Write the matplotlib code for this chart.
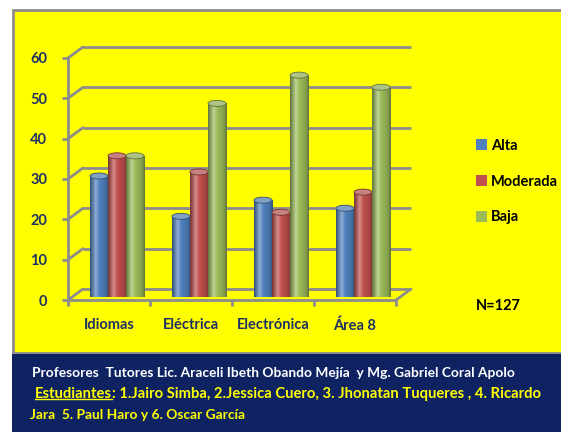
import matplotlib
matplotlib.use('Agg')
import matplotlib.pyplot as plt
import numpy as np
from matplotlib.patches import Rectangle, Ellipse, Patch, ConnectionPatch
from matplotlib.lines import Line2D
from matplotlib.colors import LinearSegmentedColormap, to_rgb

# data
categories = ['Idiomas', 'Eléctrica', 'Electrónica', 'Área 8']
series = ['Alta', 'Moderada', 'Baja']
alta = [30, 20, 24, 22]
moderada = [35, 31, 21, 26]
baja = [35, 48, 55, 52]
yticks = [0, 10, 20, 30, 40, 50, 60]
colors = ['#4F81BD', '#C0504D', '#9BBB59']
n_text = 'N=127'
line1 = 'Profesores  Tutores Lic. Araceli Ibeth Obando Mejía  y Mg. Gabriel Coral Apolo'
stud_head = 'Estudiantes'
line2 = ': 1.Jairo Simba, 2.Jessica Cuero, 3. Jhonatan Tuqueres , 4. Ricardo'
line3 = 'Jara  5. Paul Haro y 6. Oscar García'

plt.rcParams['font.family'] = ['Lato', 'DejaVu Sans']
plt.rcParams['font.weight'] = 'bold'

W, H = 561, 432
fig = plt.figure(figsize=(W / 100, H / 100), dpi=100)
fig.patch.set_facecolor('white')

gray = '#8C8C8C'
navy = '#1F3064'
yellow = '#FFFF00'

# backgrounds
fig.add_artist(Rectangle((13 / W, (H - 353) / H), 1, (353 - 10) / H, transform=fig.transFigure,
                         facecolor=yellow, edgecolor=gray, lw=2, zorder=-10))
fig.add_artist(Rectangle((12 / W, 0), 1, (H - 354) / H, transform=fig.transFigure,
                         facecolor='#0F2363', edgecolor='none', zorder=-9))

# front, back wall and middle (bars) axes, same scales, shifted in pixels
x0px, x1px, y0px, y60px = 68, 396, 300, 58
def make_axes(dx, dy):
    a = fig.add_axes([(x0px + dx) / W, (H - y0px + dy) / H, (x1px - x0px) / W, (y0px - y60px) / H])
    a.set_xlim(-0.5, 3.5)
    a.set_ylim(0, 60)
    a.patch.set_alpha(0)
    return a

back = make_axes(15, 11)
ax = make_axes(0, 0)
mid = make_axes(8, 3)
back.axis('off')
mid.axis('off')

# back wall gridlines + diagonals
for t in yticks:
    back.plot([-0.5, 3.5], [t, t], color=gray, lw=2, clip_on=False, solid_capstyle='butt')
    fig.add_artist(ConnectionPatch(xyA=(-0.5, t), coordsA=ax.transData, xyB=(-0.5, t),
                                   coordsB=back.transData, color=gray, lw=2))
fig.add_artist(ConnectionPatch(xyA=(3.5, 0), coordsA=ax.transData, xyB=(3.5, 0),
                               coordsB=back.transData, color=gray, lw=2))

# front axis
for s in ['top', 'right']:
    ax.spines[s].set_visible(False)
for s in ['left', 'bottom']:
    ax.spines[s].set_color(gray)
    ax.spines[s].set_linewidth(2)
ax.set_yticks(yticks)
ax.set_yticklabels([str(t) for t in yticks])
ax.tick_params(axis='y', length=4, width=2, color=gray, pad=11, labelsize=10.5, labelcolor=navy)
ax.set_xticks(np.arange(len(categories)))
ax.set_xticklabels(categories)
ax.tick_params(axis='x', which='major', length=0, pad=13, labelsize=10.5, labelcolor=navy)
ax.set_xticks(np.arange(len(categories) + 1) - 0.5, minor=True)
ax.tick_params(axis='x', which='minor', length=4, width=2, color=gray)

# cylinders
w = 0.22
eh = 1.5
x = np.arange(len(categories))
grad = np.linspace(0, 1, 64)[np.newaxis, :]
for i, (vals, c) in enumerate(zip([alta, moderada, baja], colors)):
    base = np.array(to_rgb(c))
    dark = base * 0.62
    light = np.clip(base + (1 - base) * 0.35, 0, 1)
    cm = LinearSegmentedColormap.from_list('cyl%d' % i, [(0, dark), (0.3, light), (0.5, base),
                                                        (0.85, base * 0.85), (1, dark)])
    xs = x + (i - 1) * w
    rects = mid.bar(xs, vals, w, color=c, edgecolor='none', zorder=3 + i)
    for xc, v, r in zip(xs, vals, rects):
        mid.add_patch(Ellipse((xc, 0), w, eh, facecolor=base * 0.75, edgecolor='none', zorder=2 + i))
        im = mid.imshow(grad, cmap=cm, extent=(xc - w / 2, xc + w / 2, 0, v), aspect='auto',
                        zorder=3.1 + i, interpolation='bilinear')
        im.set_clip_path(r)
        mid.add_patch(Ellipse((xc, v), w, eh, facecolor=light * 0.92, edgecolor=dark,
                              lw=0.6, zorder=3.2 + i))
mid.set_xlim(-0.5, 3.5)
mid.set_ylim(0, 60)

# legend
handles = [Patch(facecolor=c) for c in colors]
fig.legend(handles, series, loc='center left', bbox_to_anchor=(476 / W, (H - 181.5) / H),
           frameon=False, fontsize=10.5, handlelength=0.75, handleheight=0.75,
           handletextpad=0.3, labelspacing=1.5, borderpad=0, borderaxespad=0)
fig.text(476 / W, (H - 306) / H, n_text, fontsize=10.5, va='center', ha='left', color='black')

# footer
fs = 9.9
fs2 = 10.6
fig.text(32 / W, (H - 373) / H, line1, color='white', fontsize=fs, va='center')
t1 = fig.text(35 / W, (H - 394) / H, stud_head, color=yellow, fontsize=fs2, va='center')
fig.canvas.draw()
ax.annotate(line2, xy=(1, 0), xycoords=t1, va='bottom', ha='left', color=yellow, fontsize=fs2,
            annotation_clip=False)
bb = t1.get_window_extent()
fx0, fy0 = fig.transFigure.inverted().transform((bb.x0, bb.y0 + 2))
fx1, _ = fig.transFigure.inverted().transform((bb.x1, bb.y0 + 2))
fig.add_artist(Line2D([fx0, fx1], [fy0, fy0], color=yellow, lw=1, transform=fig.transFigure))
fig.text(30 / W, (H - 415) / H, line3, color=yellow, fontsize=fs, va='center')

fig.savefig('out.png', dpi=100)
